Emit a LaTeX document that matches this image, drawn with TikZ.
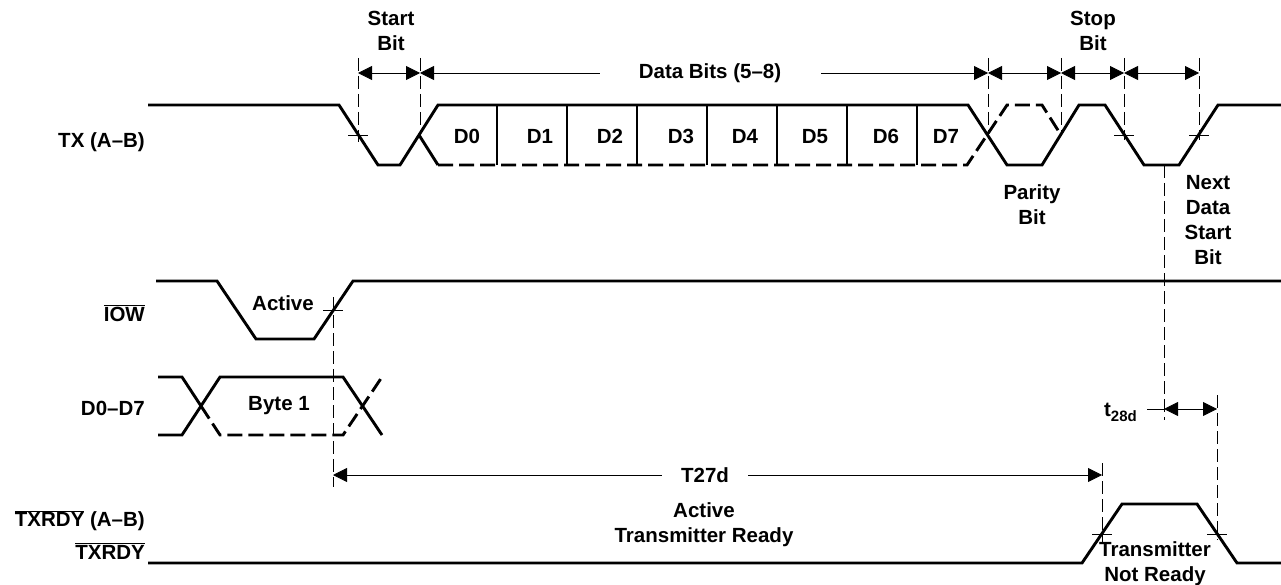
\documentclass[tikz,border=0pt]{standalone}
\usepackage{fontspec}
\setmainfont{Liberation Sans}
\usetikzlibrary{arrows.meta}

\newcommand{\ovl}[1]{$\overline{\mbox{#1}}$}

\tikzset{
	wave/.style={line width=2.9pt},
	wavedash/.style={line width=2.9pt, dash pattern=on 15pt off 6pt},
	guide/.style={line width=0.8pt, dash pattern=on 13pt off 5pt},
	tick/.style={line width=0.8pt},
	dim/.style={line width=0.8pt},
	lbl/.style={font=\fontsize{20.5}{25}\selectfont\bfseries, align=center, inner sep=0pt},
	sig/.style={lbl, anchor=east},
	>={Triangle[length=14pt,width=14pt]}
}

\begin{document}
\begin{tikzpicture}[x=1pt, y=-1pt]
	\useasboundingbox (0,0) rectangle (1281,585);

	% signal names
	\node[sig]	(tx)		at (145,142)	{TX (A–B)};
	\node[sig]	(iow)		at (145,313)	{\ovl{IOW}};
	\node[sig]	(dbus)		at (145,408)	{D0–D7};
	\node[sig]	(rdyab)		at (145,521)	{\ovl{TXRDY} (A–B)};
	\node[sig]	(rdy)		at (145,551)	{\ovl{TXRDY}};

	% TX (A-B)
	\draw[wave] (148,105) -- (339,105) -- (378,165) -- (400,165) -- (438,105) -- (968,105)
		-- (1007,165) -- (1042,165) -- (1079,105) -- (1105,105) -- (1144,165) -- (1179,165)
		-- (1218,105) -- (1281,105);
	\draw[wave] (419,135) -- (438,165);
	\draw[wavedash] (438,165) -- (967,165) -- (1007,105) -- (1042,105) -- (1061,135);
	\foreach \x in {497,567,...,917}
		\draw[wave] (\x,105) -- (\x,165);
	\foreach \x [count=\i from 0] in {467,540,610,681,745,815,886,946}
		\node[lbl, anchor=base] (d\i) at (\x,143.5) {D\i};

	% IOW
	\draw[wave] (156,281) -- (217,281) -- (256,339) -- (314,339) -- (353,281) -- (1281,281);
	\node[lbl]	(act)		at (283,303)	{Active};

	% D0-D7
	\draw[wave] (158,377) -- (182,377) -- (201,406);
	\draw[wavedash] (201,406) -- (220,435) -- (343,435) -- (382,377);
	\draw[wave] (158,435) -- (182,435) -- (220,377) -- (343,377) -- (382,435);
	\node[lbl]	(byte)		at (279,406)	{Byte 1};

	% TXRDY
	\draw[wave] (148,563) -- (1082,563) -- (1122,504) -- (1197,504) -- (1237,563) -- (1281,563);

	% guides and ticks
	\draw[guide] (358,58) -- (358,142);
	\draw[guide] (420,58) -- (420,135);
	\draw[guide] (988,58) -- (988,138);
	\draw[guide] (1061,58) -- (1061,135);
	\draw[guide] (1124,58) -- (1124,140);
	\draw[guide] (1199,58) -- (1199,140);
	\draw[guide] (333,297) -- (333,487);
	\draw[guide] (1102,463) -- (1102,543);
	\draw[guide] (1164,165) -- (1164,420);
	\draw[guide] (1217,395) -- (1217,540);
	\foreach \x/\y in {358/135,1124/135,1199/135,333/310,1102/534,1217/534}
		\draw[tick] (\x-10,\y) -- (\x+10,\y);

	% bit labels
	\node[lbl]	(start)		at (391,30.5)	{Start\\Bit};
	\node[lbl]	(stop)		at (1093,30.5)	{Stop\\Bit};
	\node[lbl]	(dbits)		at (710,73)		{Data Bits (5–8)};
	\node[lbl]	(parity)	at (1032,204.5)	{Parity\\Bit};
	\node[lbl]	(next)		at (1208,220)	{Next\\Data\\Start\\Bit};
	\node[lbl]	(t27)		at (705,475)	{T27d};
	\node[lbl]	(ready)		at (704,525)	{Active\\Transmitter Ready};
	\node[lbl]	(notready)	at (1155,563.5)	{Transmitter\\Not Ready};
	\node[lbl, anchor=east]	(t28)	at (1137,412)	{t\raisebox{-5pt}{\fontsize{15}{15}\selectfont 28d}};

	% dimension arrows
	\coordinate (m1) at (358,73);
	\coordinate (m2) at (420,73);
	\coordinate (m3) at (988,73);
	\coordinate (m4) at (1061,73);
	\coordinate (m5) at (1124,73);
	\coordinate (m6) at (1199,73);
	\coordinate (t1) at (333,475);
	\coordinate (t2) at (1102,475);
	\coordinate (u1) at (1164,409);
	\coordinate (u2) at (1217,409);

	\draw[dim,<->] (m1) -- (m2);
	\draw[dim,<-] (m2) -- ([xshift=-39pt]dbits.west);
	\draw[dim,->] ([xshift=40pt]dbits.east) -- (m3);
	\draw[dim,<->] (m3) -- (m4);
	\draw[dim,<->] (m4) -- (m5);
	\draw[dim,<->] (m5) -- (m6);
	\draw[dim,<-] (t1) -- ([xshift=-19pt]t27.west);
	\draw[dim,->] ([xshift=19pt]t27.east) -- (t2);
	\draw[dim] ([xshift=10pt]t28.east |- u1) -- (u1);
	\draw[dim,<->] (u1) -- (u2);
\end{tikzpicture}
\end{document}
